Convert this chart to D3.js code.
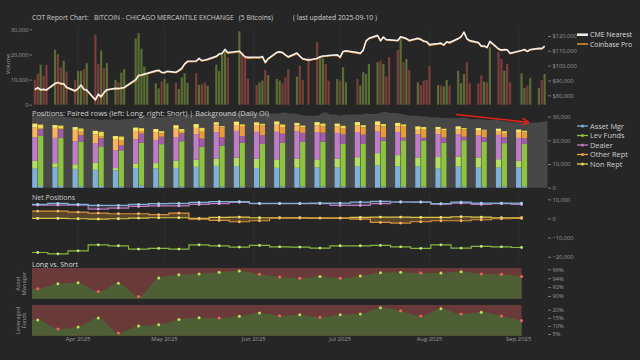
<!DOCTYPE html>
<html><head><meta charset="utf-8">
<script src="https://cdn.jsdelivr.net/npm/d3@7"></script>
<style>
html,body{margin:0;padding:0;background:#262626;}
svg{display:block;font-family:"Open Sans",sans-serif;}
</style></head><body>
<svg id="c" width="640" height="360"></svg>
<script>
// ---------------- DATA ----------------
const dayDates = [
 "03-17","03-18","03-19","03-20","03-21",
 "03-24","03-25","03-26","03-27","03-28",
 "03-31","04-01","04-02","04-03","04-04",
 "04-07","04-08","04-09","04-10","04-11",
 "04-14","04-15","04-16","04-17",
 "04-21","04-22","04-23","04-24","04-25",
 "04-28","04-29","04-30","05-01","05-02",
 "05-05","05-06","05-07","05-08","05-09",
 "05-12","05-13","05-14","05-15","05-16",
 "05-19","05-20","05-21","05-22","05-23",
 "05-27","05-28","05-29","05-30",
 "06-02","06-03","06-04","06-05","06-06",
 "06-09","06-10","06-11","06-12","06-13",
 "06-16","06-17","06-18","06-20",
 "06-23","06-24","06-25","06-26","06-27",
 "06-30","07-01","07-02","07-03",
 "07-07","07-08","07-09","07-10","07-11",
 "07-14","07-15","07-16","07-17","07-18",
 "07-21","07-22","07-23","07-24","07-25",
 "07-28","07-29","07-30","07-31","08-01",
 "08-04","08-05","08-06","08-07","08-08",
 "08-11","08-12","08-13","08-14","08-15",
 "08-18","08-19","08-20","08-21","08-22",
 "08-25","08-26","08-27","08-28","08-29",
 "09-02","09-03","09-04","09-05",
 "09-08","09-09","09-10"];
const volume = [
 9900,12300,15900,11500,15700, 21900,20100,14800,17500,13200,
 9900,13500,13500,14100,16500, 27900,16300,21600,14500,16500,
 9900,8900,12800,14100, 26300,28500,22300,15200,12300,
 8500,6500,9200,10300,8500, 8800,6300,10800,12500,8700,
 12500,7900,8100,8800,7500, 15900,13500,20100,21900,18800,
 29200,21000,19000,10300, 7800,8900,9600,13800,11800,
 10200,9600,8500,10900,14200, 11200,15500,9800,18900,
 24900,18900,18500,16200,9600, 10200,9600,14900,8900,
 10200,7600,12900,12200,16200, 16900,17500,16200,11200,18900,
 21800,26200,16900,18200,13800, 8900,7800,9600,9800,15500,
 7800,7600,7200,9800,7600, 13500,8500,12200,16900,8500,
 8500,11600,9200,8900,22900, 21100,18200,13500,16200,8900,
 12500,6700,7600,10600, 6700,9800,12200];
const volUp = [
 0,0,1,0,0, 1,0,0,1,0, 0,1,1,0,1, 0,0,1,0,1, 1,0,1,1, 1,1,1,1,1,
 1,1,0,1,1, 0,1,1,1,1, 0,1,0,0,1, 1,1,1,1,0, 1,0,0,0, 0,1,1,0,1,
 1,1,0,0,0, 1,0,0,0, 0,1,1,0,0, 1,0,1,1, 0,1,1,1,1, 1,0,1,0,0,
 0,1,0,1,0, 1,0,0,0,0, 1,0,1,1,0, 1,1,1,0,0, 0,0,1,0,1, 0,0,1,0,0,
 1,1,0,1, 1,0,1];
const cmeNearest = [
 84000,85200,83800,84100,83600, 88000,88700,87900,87800,85400,
 83100,84600,87000,84100,83600, 77000,80800,79000,82000,83800,
 84800,84600,84900,85300, 90500,93500,93700,94400,94900,
 96600,96900,95600,95400,96200, 95600,96800,98300,101200,102900,
 103100,105000,103400,103800,104300, 106300,107900,108300,111000,108900,
 109800,107800,106000,105600, 105600,105600,106200,102300,104800,
 109000,109400,108900,107300,106000, 108500,106500,104700,103800,
 104900,106000,106500,106600,106900, 107300,105700,109600,110000,
 108800,108400,110500,116800,118500, 120500,116800,119300,117600,117500,
 117000,119500,119000,118300,117000, 118500,117800,116600,116200,114200,
 114900,115200,114000,116200,115600, 118300,119600,122600,118200,116900,
 115600,113300,113300,112300,116400, 111400,110500,110900,110800,108400,
 110300,110900,109700,110900, 111700,111500,113200];
const coinbasePro = [
 83500,84600,83300,83800,83200, 87500,88300,87400,87300,84900,
 82600,84100,86300,83700,83200, 76600,80200,78600,81500,83400,
 84300,84200,84400,84800, 89900,93000,93300,93800,94500,
 95900,96400,95100,94900,96000, 95100,96300,97600,100800,102500,
 102700,104400,103000,103500,103800, 105800,107500,108000,110500,108300,
 109300,107500,105500,104900, 105200,105100,105600,101700,104300,
 108600,109000,108500,106900,105500, 107900,106100,104300,103400,
 104600,105600,106100,106200,106500, 106900,105300,109200,109600,
 108300,108000,110100,116200,118000, 119900,116500,118800,117200,117100,
 116700,119000,118500,117900,116600, 118000,117400,116200,115800,113600,
 114500,114600,113600,115900,115100, 118000,119200,122200,117900,116400,
 115200,112900,112900,112000,115900, 110900,110200,110500,110400,108000,
 109900,110600,109300,110500, 111300,111100,112800];
const dailyOI = [
 30800,31000,31200,31000,30600, 30400,30500,30200,29800,29600,
 29400,29600,29300,29100,29000, 28800,28600,28700,28900,28800,
 28700,28600,28800,29000, 29300,29800,30100,30000,29900,
 29800,29700,29900,30000,30100, 30200,30400,30300,30700,30900,
 31000,30900,31100,31200,31000, 31200,31400,31600,31700,31500,
 31300,31500,31400,31200, 31300,31500,31600,31400,31300,
 31200,31500,31700,31600,31300, 31000,30700,30500,30400,
 30600,31200,31700,31500,30900, 30500,30600,30800,30900,
 30900,31000,31200,31300,31100, 31400,31700,31900,31800,31500,
 31300,31100,30800,30600,30400, 30200,30100,30000,29900,29700,
 29600,29500,29400,29500,29300, 29400,29600,29500,29200,29000,
 28900,28800,28600,28500,28700, 28400,28200,28000,27900,27600,
 27300,27200,27400,27500, 27600,27800,28000];

const weekDates = ["03-18","03-25","04-01","04-08","04-15","04-22","04-29","05-06","05-13",
 "05-20","05-27","06-03","06-10","06-17","06-24","07-01","07-08","07-15","07-22","07-29",
 "08-05","08-12","08-19","08-26","09-02"];
const amLong  = [8090,8540,7950,7570,7390,8280,8220,8330,8860,9190,9160,8320,8380,8410,8550,8590,9100,9390,9030,9030,8110,9000,8490,8490,8550];
const amShort = [740,670,600,750,570,930,520,460,470,450,420,450,510,540,510,550,530,470,440,460,410,430,450,460,510];
const lfLong  = [3330,1790,1930,2920,900,1980,2140,3120,2980,3030,3500,3940,3580,3830,3420,3650,3780,5200,4700,3730,4820,4100,4270,3520,2780];
const lfShort = [21130,20270,18840,16690,15190,18010,17840,19150,16750,17320,18480,18060,18400,18820,18920,17940,18070,19320,19520,19430,18590,19600,18920,18340,17960];
const dlLong  = [9900,10700,9700,8300,7500,10200,9800,9900,10800,11200,11300,11300,11600,11500,11500,10900,10600,9200,9800,9800,9700,9500,9300,10300,9700];
const dlShort = [2900,3700,2700,3400,2100,3900,3200,3300,3500,3500,2900,3600,3900,3800,3800,4100,3800,1500,1200,1200,2200,1500,2000,2600,2400];
const otLong  = [4200,4200,4800,3700,4500,3500,3300,3500,2600,3200,2500,2900,3000,2600,2800,2800,2800,2500,2400,1900,1900,1900,2000,1500,2500];
const otShort = [340,340,1480,900,2040,1040,1360,700,2930,4230,4230,4100,2800,2400,2600,2600,3130,4580,4840,3630,3100,3100,2680,1670,2500];
const nrLong  = [1500,1200,1200,1500,1500,1400,1300,1500,1600,1000,1400,1100,1400,1000,1400,1100,1400,1700,1400,1400,1100,1400,1100,1100,1000];
const nrShort = [1500,1200,1370,1850,1670,1230,950,1150,1600,480,700,750,1050,650,1230,930,880,1000,700,880,580,530,400,750,650];
const firstDotUp = [false, true]; // Asset Manager, Leveraged Funds (vs. prior week)

const categories = ["Asset Mgr","Lev Funds","Dealer","Other Rept","Non Rept"];
const volTicks = [0,10000,20000,30000];
const priceTicks = [80000,90000,100000,110000,120000];
const posTicks = [0,10000,20000,30000];
const netTicks = [-20000,-10000,0,10000];
const amTicks = [90,92,94,96];
const lfTicks = [5,10,15,20];
const monthTicks = ["2025-04-01","2025-05-01","2025-06-01","2025-07-01","2025-08-01","2025-09-01"];

// ---------------- SETUP ----------------
const P = d3.utcParse("%Y-%m-%d");
const pd = s => P("2025-" + s);
const svg = d3.select("#c");
svg.append("rect").attr("width",640).attr("height",360).attr("fill","#262626");

const X0 = P("2025-03-16"), X1 = P("2025-09-11");
const x = d3.scaleUtc().domain([X0, X1]).range([32, 547.5]);
const yVol = d3.scaleLinear().domain([0,30000]).range([104.7,29.3]);
const yPrice = d3.scaleLinear().domain([80000,120000]).range([95.3,36]);
const yPos = d3.scaleLinear().domain([0,30000]).range([187.7,116.6]);
const yNet = d3.scaleLinear().domain([-20000,10000]).range([256.7,199.3]);
const yAM = d3.scaleLinear().domain([90,96]).range([296,269.3]);
const yLF = d3.scaleLinear().domain([5,20]).range([334,309.7]);

const days = dayDates.map((s,i)=>({date:pd(s), vol:volume[i], up:volUp[i], cme:cmeNearest[i], cb:coinbasePro[i], oi:dailyOI[i]}));
const weeks = weekDates.map((s,i)=>({date:pd(s),
  L:[amLong[i],lfLong[i],dlLong[i],otLong[i],nrLong[i]],
  S:[amShort[i],lfShort[i],dlShort[i],otShort[i],nrShort[i]]}));
const months = monthTicks.map(P);

function styleAxis(g){
  g.attr("font-family","Open Sans").attr("font-size",5.7);
  g.select(".domain").remove();
  g.selectAll(".tick line").attr("stroke","#777");
  g.selectAll(".tick text").attr("fill","#9a9a9a");
}
function txt(t,xx,yy,size,fill,len){
  const e = svg.append("text").attr("x",xx).attr("y",yy).attr("font-size",size)
    .attr("fill",fill).style("white-space","pre").text(t);
  if (len) e.attr("textLength",len).attr("lengthAdjust","spacingAndGlyphs");
  return e;
}

// gridlines (monthly)
[[27,105],[194,262]].forEach(([a,b])=>{
  svg.append("g").selectAll("line").data(months).join("line")
    .attr("x1",d=>x(d)).attr("x2",d=>x(d)).attr("y1",a).attr("y2",b)
    .attr("stroke","#303030").attr("stroke-width",1);
});

// ---------------- TITLE ----------------
txt("COT Report Chart:   BITCOIN - CHICAGO MERCANTILE EXCHANGE   (5 Bitcoins)",32,19.5,7.3,"#cfcfcf",241);
txt("( last updated 2025-09-10 )",293,19.5,7.3,"#cfcfcf",84);

// ---------------- VOLUME + PRICE ----------------
svg.append("g").selectAll("rect").data(days).join("rect")
  .attr("x",d=>x(d.date)-1.1).attr("width",2.2)
  .attr("y",d=>yVol(d.vol)).attr("height",d=>yVol(0)-yVol(d.vol))
  .attr("fill",d=>d.up? "#5a6d35":"#7a3f3b");
svg.append("path").datum(days).attr("fill","none").attr("stroke","#e8922c").attr("stroke-width",1.2)
  .attr("d",d3.line().x(d=>x(d.date)).y(d=>yPrice(d.cb)));
svg.append("path").datum(days).attr("fill","none").attr("stroke","#f2f2f2").attr("stroke-width",1.5)
  .attr("stroke-linejoin","round")
  .attr("d",d3.line().x(d=>x(d.date)).y(d=>yPrice(d.cme)));
styleAxis(svg.append("g").attr("transform","translate(32,0)")
  .call(d3.axisLeft(yVol).tickValues(volTicks).tickFormat(d3.format(",")).tickSize(2.5).tickPadding(1)));
styleAxis(svg.append("g").attr("transform","translate(548,0)")
  .call(d3.axisRight(yPrice).tickValues(priceTicks).tickFormat(d3.format("$,")).tickSize(3).tickPadding(1.5)));
svg.append("text").attr("transform","translate(10,64) rotate(-90)").attr("text-anchor","middle")
  .attr("font-size",5.8).attr("fill","#9a9a9a").text("Volume");
// price legend
svg.append("line").attr("x1",577).attr("x2",588).attr("y1",34.7).attr("y2",34.7).attr("stroke","#f2f2f2").attr("stroke-width",2.5);
txt("CME Nearest",590,37.3,7.3,"#dddddd",42);
svg.append("line").attr("x1",577).attr("x2",588).attr("y1",44).attr("y2",44).attr("stroke","#e8922c").attr("stroke-width",1.5);
txt("Coinbase Pro",590,46.6,7.3,"#dddddd",42);

// ---------------- POSITIONS ----------------
const oiPts = [{date:X0, oi:days[0].oi}, ...days, {date:X1, oi:days[days.length-1].oi}];
svg.append("path").datum(oiPts).attr("fill","#474747")
  .attr("d",d3.area().curve(d3.curveStepAfter).x(d=>x(d.date)).y0(yPos(0)).y1(d=>yPos(d.oi)));
const colL = ["#7fb1d8","#b4df62","#c07cc6","#fcb35f","#fbe86a"];
const colS = ["#7fb1d8","#8dc43f","#a05ca6","#e99b39","#eed64c"];
const bw = 5.2, gap = 0.3;
const gb = svg.append("g");
weeks.forEach(w=>{
  const cx = x(w.date);
  [["L",cx-gap-bw,colL],["S",cx+gap,colS]].forEach(([side,bx,cols])=>{
    let cum = 0;
    w[side].forEach((v,j)=>{
      gb.append("rect").attr("x",bx).attr("width",bw)
        .attr("y",yPos(cum+v)).attr("height",yPos(cum)-yPos(cum+v)).attr("fill",cols[j]);
      cum += v;
    });
  });
});
styleAxis(svg.append("g").attr("transform","translate(548,0)")
  .call(d3.axisRight(yPos).tickValues(posTicks).tickFormat(d3.format(",")).tickSize(3).tickPadding(1.5)));
txt("Positions: Paired rows (left: Long, right: Short) | Background (Daily OI)",32,116.3,7.2,"#cfcfcf",237);
// legend
const legCol = ["#7fb1d8","#8dc43f","#bd7ebe","#f0a040","#e8d44d"];
categories.forEach((c,i)=>{
  const yy = 126 + i*9.5;
  svg.append("line").attr("x1",577).attr("x2",588).attr("y1",yy).attr("y2",yy).attr("stroke",legCol[i]).attr("stroke-width",1.3);
  svg.append("circle").attr("cx",582.5).attr("cy",yy).attr("r",1.5).attr("fill",legCol[i]);
  txt(c,590,yy+2.6,7.4,"#cfcfcf");
});
// red arrow
const defs = svg.append("defs");
defs.append("marker").attr("id","ah").attr("viewBox","0 0 10 10").attr("refX",8).attr("refY",5)
  .attr("markerWidth",5).attr("markerHeight",5).attr("orient","auto")
  .append("path").attr("d","M0,0 L10,5 L0,10").attr("fill","none").attr("stroke","#e3221c").attr("stroke-width",2);
svg.append("line").attr("x1",456).attr("y1",114.6).attr("x2",527.5).attr("y2",122.2)
  .attr("stroke","#e3221c").attr("stroke-width",1.5).attr("marker-end","url(#ah)");

// ---------------- NET POSITIONS ----------------
txt("Net Positions",32,200.3,7,"#cfcfcf");
const net = j => weeks.map(w=>({date:w.date, v:w.L[j]-w.S[j]}));
const ext = arr => [{date:X0, v:arr[0].v}, ...arr];
const nets = [0,1,2,3,4].map(j=>net(j));
function band(a,b,fill){
  const A = ext(nets[a]), B = ext(nets[b]);
  const pts = A.map((d,i)=>({date:d.date, a:d.v, b:B[i].v}));
  svg.append("path").datum(pts).attr("fill",fill)
    .attr("d",d3.area().curve(d3.curveStep).x(d=>x(d.date)).y0(d=>yNet(d.b)).y1(d=>yNet(d.a)));
}
band(0,2,"rgba(170,150,210,0.22)");
band(3,4,"rgba(215,150,60,0.28)");
const netLine = ["#7fb1d8","#86b63c","#b879c0","#d8923c","#dcc846"];
const netDot  = ["#a9d0f0","#c3e87c","#d9a3de","#f5b865","#f5e57a"];
const drawOrder = [1,4,3,2,0];
drawOrder.forEach(j=>{
  svg.append("path").datum(ext(nets[j])).attr("fill","none").attr("stroke",netLine[j]).attr("stroke-width",1.2)
    .attr("d",d3.line().curve(d3.curveStep).x(d=>x(d.date)).y(d=>yNet(d.v)));
  svg.append("g").selectAll("circle").data(nets[j]).join("circle")
    .attr("cx",d=>x(d.date)).attr("cy",d=>yNet(d.v)).attr("r",1.4).attr("fill",netDot[j]);
});
styleAxis(svg.append("g").attr("transform","translate(548,0)")
  .call(d3.axisRight(yNet).tickValues(netTicks).tickFormat(d3.format(",")).tickSize(3).tickPadding(1.5)));

// ---------------- LONG VS SHORT ----------------
txt("Long vs. Short",32,266.6,7,"#dddddd");
function lvs(j, yS, top, bottom, firstUp, ticks){
  const pts = weeks.map(w=>({date:w.date, v:100*w.L[j]/(w.L[j]+w.S[j])}));
  const xe = x(pts[pts.length-1].date);
  svg.append("rect").attr("x",32).attr("y",top).attr("width",xe-32).attr("height",bottom-top).attr("fill","#6a3a38");
  svg.append("path").datum(ext(pts)).attr("fill","#4f5f35")
    .attr("d",d3.area().curve(d3.curveMonotoneX).x(d=>x(d.date)).y0(bottom).y1(d=>yS(d.v)));
  svg.append("g").selectAll("circle").data(pts).join("circle")
    .attr("cx",d=>x(d.date)).attr("cy",d=>yS(d.v)).attr("r",1.5)
    .attr("fill",(d,i)=>{ const up = i===0 ? firstUp : d.v >= pts[i-1].v; return up ? "#b9e25c":"#f0625a"; });
  styleAxis(svg.append("g").attr("transform","translate(548,0)")
    .call(d3.axisRight(yS).tickValues(ticks).tickFormat(d=>d+"%").tickSize(3).tickPadding(1.5)));
}
lvs(0, yAM, 268, 298.7, firstDotUp[0], amTicks);
lvs(1, yLF, 305, 335.7, firstDotUp[1], lfTicks);
function vlabel(lines, cx, cy){
  const g = svg.append("g").attr("transform",`translate(${cx},${cy}) rotate(-90)`);
  lines.forEach((t,i)=>g.append("text").attr("x",0).attr("y",i*6.2).attr("text-anchor","middle")
    .attr("font-size",5.7).attr("fill","#9a9a9a").text(t));
}
vlabel(["Asset","Manager"],19.6,283.5);
vlabel(["Leveraged","Funds"],19.6,320.5);

// x axis labels
svg.append("g").selectAll("text").data(months).join("text")
  .attr("x",d=>x(d)).attr("y",341.3).attr("text-anchor","middle").attr("font-size",5.9)
  .attr("fill","#9a9a9a").text(d3.utcFormat("%b %Y"));
</script></body></html>
